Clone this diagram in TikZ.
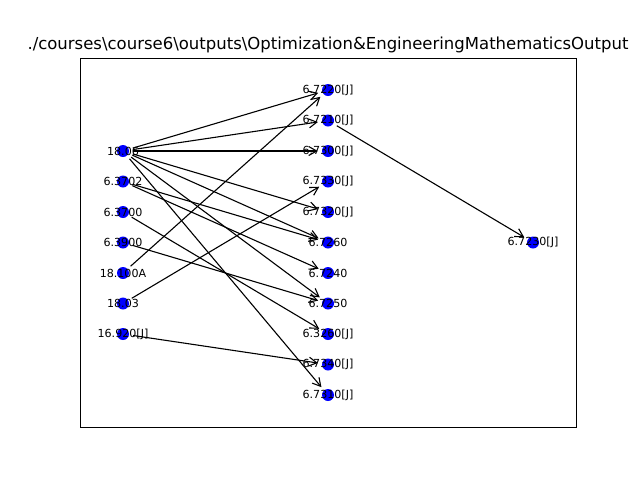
\documentclass[tikz,border=0pt]{standalone}
\usepackage{fontspec}
\setmainfont{DejaVu Sans}
\usetikzlibrary{arrows.meta,backgrounds}
\tikzset{
  dot/.style={circle,fill=blue,draw=none,minimum size=12pt,inner sep=0pt},
  lbl/.style={font=\fontsize{11.1}{13}\selectfont,inner sep=0pt,text=black},
  edge/.style={draw=black,line width=1.1pt,-{Straight Barb[length=8pt,width=9pt,line width=1.1pt]},shorten >=4pt,shorten <=4pt},
  frame/.style={draw=black,line width=1.1pt}
}
\newcommand{\gnode}[3]{\node[dot,label={[lbl]center:#3}] (#1) at #2 {};}
\begin{document}
\begin{tikzpicture}[x=1pt,y=-1pt]
\useasboundingbox (0,0) rectangle (640,480);
\node[frame,minimum width=496pt,minimum height=369pt,inner sep=0pt,anchor=north west] (ax) at (80,58) {};
\node[font=\fontsize{16.5}{20}\selectfont,anchor=base,inner sep=0pt] (title) at (328,49.7) {./courses\textbackslash course6\textbackslash outputs\textbackslash Optimization\&EngineeringMathematicsOutput};
% left column
\gnode{l1}{(123,151)}{18.06}
\gnode{l2}{(123,181.5)}{6.3702}
\gnode{l3}{(123,212)}{6.3700}
\gnode{l4}{(123,242.5)}{6.3900}
\gnode{l5}{(123,273)}{18.100A}
\gnode{l6}{(123,303.5)}{18.03}
\gnode{l7}{(123,334)}{16.920[J]}
% middle column
\gnode{m1}{(328,90)}{6.7220[J]}
\gnode{m2}{(328,120.5)}{6.7210[J]}
\gnode{m3}{(328,151)}{6.7300[J]}
\gnode{m4}{(328,181.5)}{6.7330[J]}
\gnode{m5}{(328,212)}{6.7320[J]}
\gnode{m6}{(328,242.5)}{6.7260}
\gnode{m7}{(328,273)}{6.7240}
\gnode{m8}{(328,303.5)}{6.7250}
\gnode{m9}{(328,334)}{6.3260[J]}
\gnode{m10}{(328,364.5)}{6.7340[J]}
\gnode{m11}{(328,395)}{6.7310[J]}
% right
\gnode{r1}{(533,242.5)}{6.7230[J]}
\begin{scope}[on background layer]
\draw[edge] (l1) -- (m1);
\draw[edge] (l1) -- (m2);
\draw[edge] (l1) -- (m3);
\draw[edge] (l1) -- (m5);
\draw[edge] (l1) -- (m6);
\draw[edge] (l1) -- (m8);
\draw[edge] (l1) -- (m11);
\draw[edge] (l2) -- (m6);
\draw[edge] (l2) -- (m7);
\draw[edge] (l3) -- (m9);
\draw[edge] (l4) -- (m8);
\draw[edge] (l5) -- (m1);
\draw[edge] (l6) -- (m4);
\draw[edge] (l7) -- (m10);
\draw[edge] (m2) -- (r1);
\end{scope}
\end{tikzpicture}
\end{document}
